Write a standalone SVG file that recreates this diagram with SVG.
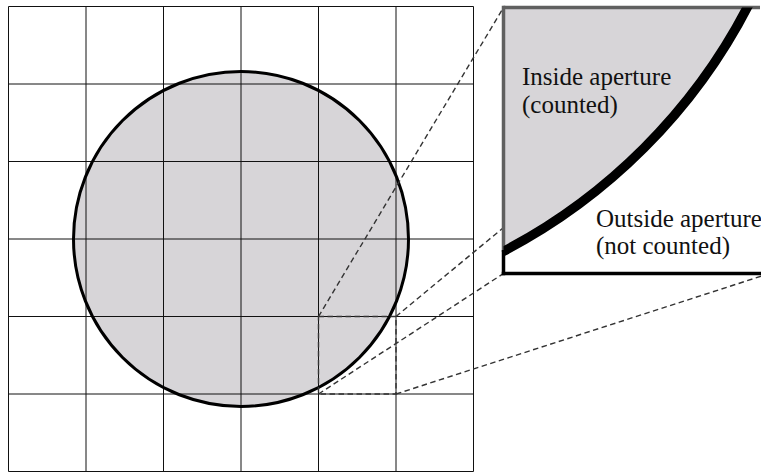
<svg xmlns="http://www.w3.org/2000/svg" width="761" height="472" viewBox="0 0 761 472">
<style>
.grid{stroke:#111;stroke-width:1;fill:none}
.dash{stroke:#333;stroke-width:1.4;stroke-dasharray:5.5 3.5;fill:none}
.lbl{font-family:"Liberation Serif","Times New Roman",serif;font-size:25px;fill:#111}
</style>
<defs>
<clipPath id="insetClip"><rect x="503.5" y="7.5" width="266" height="266"/></clipPath>
</defs>
<rect x="0" y="0" width="761" height="472" fill="#fff"/>
<g id="aperture-fill">
<circle cx="241" cy="239" r="167.5" fill="#d7d5d8"/>
</g>
<g id="grid" class="grid">
<path d="M8.5 6.5V471.5M86 6.5V471.5M163.5 6.5V471.5M241 6.5V471.5M318.5 6.5V471.5M396 6.5V471.5M473.5 6.5V471.5"/>
<path d="M8.5 6.5H473.5M8.5 84H473.5M8.5 161.5H473.5M8.5 239H473.5M8.5 316.5H473.5M8.5 394H473.5M8.5 471.5H473.5"/>
</g>
<g id="aperture-outline">
<circle cx="241" cy="239" r="167.5" fill="none" stroke="#000" stroke-width="3"/>
</g>
<g id="connectors">
<rect class="dash" x="318.5" y="316.5" width="77.5" height="77.5"/>
<line class="dash" x1="318.5" y1="316.5" x2="503.5" y2="7.5"/>
<line class="dash" x1="396" y1="316.5" x2="769.5" y2="7.5"/>
<line class="dash" x1="318.5" y1="394" x2="503.5" y2="273.5"/>
<line class="dash" x1="396" y1="394" x2="769.5" y2="273.5"/>
</g>
<g id="inset">
<rect x="503.5" y="7.5" width="266" height="266" fill="#fff"/>
<g clip-path="url(#insetClip)">
<circle cx="237.5" cy="-258.5" r="574.9" fill="#d7d5d8"/>
</g>
<line x1="503.5" y1="7.5" x2="760" y2="7.5" stroke="#606060" stroke-width="3.5"/>
<line x1="503.5" y1="5.75" x2="503.5" y2="252" stroke="#606060" stroke-width="3.5"/>
<line x1="503.5" y1="250" x2="503.5" y2="275.25" stroke="#000" stroke-width="3.5"/>
<line x1="501.75" y1="273.5" x2="770" y2="273.5" stroke="#000" stroke-width="3.5"/>
<g clip-path="url(#insetClip)">
<circle cx="237.5" cy="-258.5" r="574.9" fill="none" stroke="#000" stroke-width="9.5"/>
</g>
</g>
<g id="label-inside">
<text class="lbl" x="522" y="85">Inside aperture</text>
<text class="lbl" x="522" y="113">(counted)</text>
</g>
<g id="label-outside">
<text class="lbl" x="596" y="227">Outside aperture</text>
<text class="lbl" x="596" y="254">(not counted)</text>
</g>
</svg>
